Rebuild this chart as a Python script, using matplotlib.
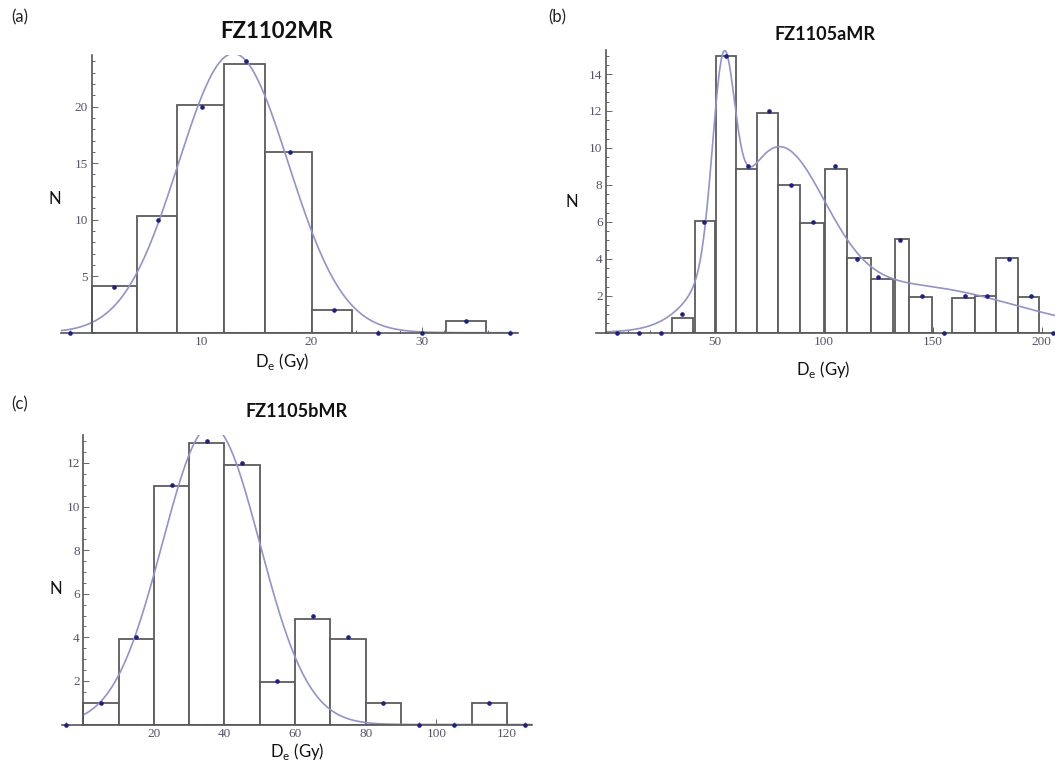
import numpy as np
import matplotlib
matplotlib.use("Agg")
import matplotlib.pyplot as plt
from matplotlib.ticker import FixedLocator, MultipleLocator

plt.rcParams['font.family'] = ['Lato', 'DejaVu Sans']

# ---------------- data ----------------
# (a) FZ1102MR
a_bar_left = [0.0, 4.1, 7.75, 12.05, 15.75, 20.0, 32.2]
a_bar_right = [4.1, 7.75, 12.05, 15.75, 20.0, 23.65, 35.9]
a_bar_height = [4.1, 10.3, 20.15, 23.75, 16.0, 2.0, 1.0]
a_dot_x = [-2, 2, 6, 10, 14, 18, 22, 26, 30, 34, 38]
a_dot_y = [0, 4, 10, 20, 24, 16, 2, 0, 0, 1, 0]
a_fit_amp = [24.7]
a_fit_mean = [12.9]
a_fit_sd = [5.0]

# (b) FZ1105aMR
b_bar_left = [30.2, 40.7, 50.3, 59.5, 69.1, 78.9, 89.0, 100.4, 110.7, 121.8, 132.6, 139.2, 159.0, 169.4, 178.9, 189.2]
b_bar_right = [39.8, 50.1, 59.5, 69.1, 78.9, 89.0, 100.0, 110.7, 121.8, 131.9, 139.2, 149.8, 169.4, 178.9, 189.2, 198.9]
b_bar_height = [0.8, 6.05, 14.95, 8.85, 11.9, 8.0, 5.95, 8.85, 4.03, 2.89, 5.05, 1.95, 1.86, 1.98, 4.03, 1.95]
b_dot_x = [5, 15, 25, 35, 45, 55, 65, 75, 85, 95, 105, 115, 125, 135, 145, 155, 165, 175, 185, 195, 205]
b_dot_y = [0, 0, 0, 1, 6, 15, 9, 12, 8, 6, 9, 4, 3, 5, 2, 0, 2, 2, 4, 2, 0]
b_fit_amp = [9.8, 9.0, 2.5]
b_fit_mean = [53.8, 78.0, 140.0]
b_fit_sd = [5.0, 22.0, 47.0]

# (c) FZ1105bMR
c_bar_left = [0, 10, 20, 30, 40, 50, 60, 70, 80, 110]
c_bar_right = [10, 20, 30, 40, 50, 60, 70, 80, 90, 120]
c_bar_height = [1.0, 3.9, 10.95, 12.9, 11.9, 1.95, 4.85, 3.9, 1.0, 1.0]
c_dot_x = [-5, 5, 15, 25, 35, 45, 55, 65, 75, 85, 95, 105, 115, 125]
c_dot_y = [0, 1, 4, 11, 13, 12, 2, 5, 4, 1, 0, 0, 1, 0]
c_fit_amp = [13.7]
c_fit_mean = [36.2]
c_fit_sd = [13.8]

titles = ['FZ1102MR', 'FZ1105aMR', 'FZ1105bMR']
panel_tags = ['(a)', '(b)', '(c)']
xlabel = r'D$_\mathregular{e}$ (Gy)'
ylabel = 'N'

# ---------------- styling ----------------
W, H = 1055, 763
BAR_EDGE = '#5c5c5c'
CURVE = '#9292cc'
DOT = '#1e1e8c'
AXIS = '#555555'
TICKLAB = '#55556a'


def px_rect(l, r, t, b):
    return [l / W, 1 - b / H, (r - l) / W, (b - t) / H]


def mixture(x, amps, means, sds):
    y = np.zeros_like(x)
    for A, m, s in zip(amps, means, sds):
        y = y + A * np.exp(-(x - m) ** 2 / (2 * s ** 2))
    return y


def panel(rect, xlim, ylim, left, right, height, dx, dy, amps, means, sds,
          curve_start, xmaj, xmin_step, ymaj, ymin_step):
    ax = fig.add_axes(rect)
    ax.set_xlim(*xlim)
    ax.set_ylim(*ylim)
    for l, r, h in zip(left, right, height):
        ax.bar(l, h, width=r - l, align='edge', facecolor='white',
               edgecolor=BAR_EDGE, linewidth=1.3, zorder=2)
    xs = np.linspace(curve_start, xlim[1], 800)
    ax.plot(xs, mixture(xs, amps, means, sds), color=CURVE, lw=1.2, zorder=3)
    ax.plot(dx, dy, 'o', ms=2.3, color=DOT, mec=DOT, zorder=5, clip_on=False)
    for s in ['top', 'right']:
        ax.spines[s].set_visible(False)
    ax.spines['left'].set_position(('data', 0))
    ax.spines['bottom'].set_position(('data', 0))
    for s in ['left', 'bottom']:
        ax.spines[s].set_color(AXIS)
        ax.spines[s].set_linewidth(1.2)
        ax.spines[s].set_zorder(4)
    ax.xaxis.set_major_locator(FixedLocator(xmaj))
    ax.xaxis.set_minor_locator(MultipleLocator(xmin_step))
    ax.yaxis.set_major_locator(FixedLocator(ymaj))
    ax.yaxis.set_minor_locator(MultipleLocator(ymin_step))
    ax.tick_params(which='both', direction='in', color='#666666', width=0.7,
                   labelcolor=TICKLAB, labelsize=9.5, pad=2.5)
    ax.tick_params(which='major', length=4)
    ax.tick_params(which='minor', length=2.2)
    for lab in ax.get_xticklabels() + ax.get_yticklabels():
        lab.set_fontfamily('Liberation Serif')
    ax.patch.set_alpha(0)
    return ax


fig = plt.figure(figsize=(W / 100, H / 100), dpi=100)

# (a)
panel(px_rect(60.7, 518.3, 54.7, 332.7), (-2.8, 38.8), (0, 24.6),
      a_bar_left, a_bar_right, a_bar_height, a_dot_x, a_dot_y,
      a_fit_amp, a_fit_mean, a_fit_sd, -2.8,
      [10, 20, 30], 2, [5, 10, 15, 20], 1)
# (b)
panel(px_rect(595.6, 1055.9, 50.0, 332.7), (-4.8, 206.5), (0, 15.3),
      b_bar_left, b_bar_right, b_bar_height, b_dot_x, b_dot_y,
      b_fit_amp, b_fit_mean, b_fit_sd, 0.0,
      [50, 100, 150, 200], 10, [2, 4, 6, 8, 10, 12, 14], 0.5)
# (c)
panel(px_rect(62.1, 531.6, 435.0, 724.5), (-6, 127), (0, 13.28),
      c_bar_left, c_bar_right, c_bar_height, c_dot_x, c_dot_y,
      c_fit_amp, c_fit_mean, c_fit_sd, 0.0,
      [20, 40, 60, 80, 100, 120], 5, [2, 4, 6, 8, 10, 12], 0.5)


def ftext(x, y, s, **kw):
    fig.text(x / W, 1 - y / H, s, ha='center', va='center', **kw)


# titles
ftext(277, 32, titles[0], fontsize=16, fontweight='bold', color='#111111')
ftext(825, 34, titles[1], fontsize=13, fontweight='bold', color='#111111')
ftext(297, 412, titles[2], fontsize=13, fontweight='bold', color='#111111')
# panel tags
ftext(20, 17, panel_tags[0], fontsize=12, color='#222222')
ftext(557, 17, panel_tags[1], fontsize=12, color='#222222')
ftext(20, 404, panel_tags[2], fontsize=12, color='#222222')
# y labels
ftext(55, 199, ylabel, fontsize=12, color='#111111')
ftext(572, 202, ylabel, fontsize=12, color='#111111')
ftext(56, 589, ylabel, fontsize=12, color='#111111')
# x labels
ftext(282, 362, xlabel, fontsize=12, color='#111111')
ftext(823, 370, xlabel, fontsize=12, color='#111111')
ftext(297, 751, xlabel, fontsize=12, color='#111111')

fig.savefig('out.png', dpi=100, facecolor='white')
